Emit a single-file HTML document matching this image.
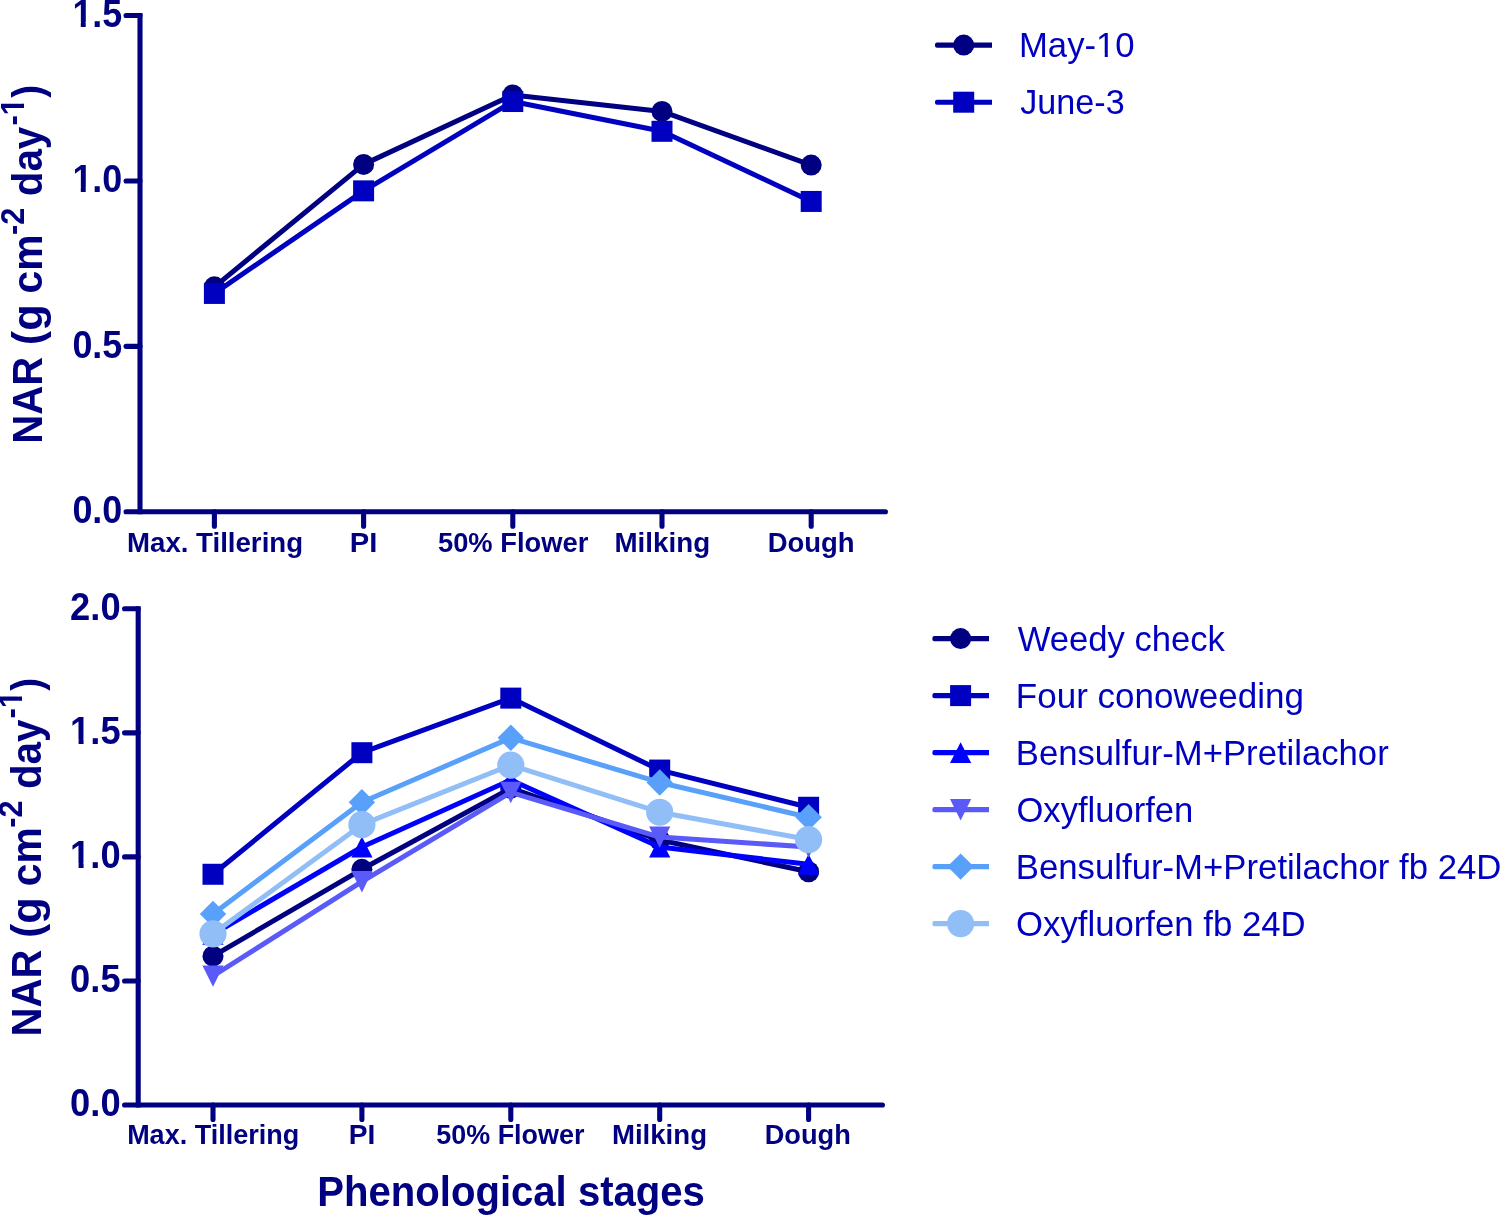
<!DOCTYPE html>
<html lang="en">
<head>
<meta charset="utf-8">
<title>NAR by phenological stages</title>
<style>
html,body{margin:0;padding:0;background:#fff;}
body{width:1500px;height:1215px;overflow:hidden;}
svg{display:block;}
text{font-family:"Liberation Sans",sans-serif;}
.yl text{font-size:38.2px;font-weight:bold;fill:#000080;}
.xl text{font-size:27.6px;font-weight:bold;fill:#000080;}
.yt text{font-size:43.2px;font-weight:bold;fill:#000080;font-kerning:none;}
.yt text.sup{font-size:33px;}
.xt{font-size:43.2px;font-weight:bold;fill:#000080;}
.lg{font-size:35.1px;fill:#0000c0;}
</style>
</head>
<body>
<svg width="1500" height="1215" viewBox="0 0 1500 1215">
<rect width="1500" height="1215" fill="#ffffff"/>
<!-- top chart -->
<g stroke="#000080" stroke-width="5.1" stroke-linecap="round" fill="none">
<path d="M140 15.5V511.8" stroke-linecap="square"/>
<path d="M126.05 511.8H885.45"/>
<path d="M126.05 15.5H140"/>
<path d="M126.05 180.93H140"/>
<path d="M126.05 346.37H140"/>
<path d="M214.4 511.8V526.25"/>
<path d="M363.6 511.8V526.25"/>
<path d="M512.8 511.8V526.25"/>
<path d="M662 511.8V526.25"/>
<path d="M811.2 511.8V526.25"/>
</g>
<g class="yl" text-anchor="end">
<text class="m1" x="122.3" y="26.8" textLength="49.9" lengthAdjust="spacingAndGlyphs">1.5</text>
<text class="m1" x="122.3" y="192.23" textLength="49.9" lengthAdjust="spacingAndGlyphs">1.0</text>
<text x="122.3" y="357.67" textLength="49.9" lengthAdjust="spacingAndGlyphs">0.5</text>
<text x="122.3" y="523.1" textLength="49.9" lengthAdjust="spacingAndGlyphs">0.0</text>
</g>
<g class="xl">
<text x="127" y="551.5" textLength="176.07" lengthAdjust="spacingAndGlyphs">Max. Tillering</text>
<text x="349.85" y="551.5" textLength="27.58" lengthAdjust="spacingAndGlyphs">PI</text>
<text x="437.95" y="551.5" textLength="150.41" lengthAdjust="spacingAndGlyphs">50% Flower</text>
<text x="614.48" y="551.5" textLength="95.65" lengthAdjust="spacingAndGlyphs">Milking</text>
<text x="767.66" y="551.5" textLength="86.99" lengthAdjust="spacingAndGlyphs">Dough</text>
</g>
<g class="yt" transform="translate(42.3 441) rotate(-90)">
<text x="-2.68" textLength="86.8" lengthAdjust="spacingAndGlyphs">NAR</text>
<text x="95.74" textLength="40.85" lengthAdjust="spacingAndGlyphs">(g</text>
<text x="147.61" textLength="58.92" lengthAdjust="spacingAndGlyphs">cm</text>
<text class="sup" y="-18.3" x="206.1" textLength="27.22" lengthAdjust="spacingAndGlyphs">-2</text>
<text x="244.74" textLength="69.57" lengthAdjust="spacingAndGlyphs">day</text>
<text class="sup m1" y="-18.3" x="315.38" textLength="27.7" lengthAdjust="spacingAndGlyphs">-1</text>
<text x="343.16" textLength="12.86" lengthAdjust="spacingAndGlyphs">)</text>
</g>
<polyline points="214.4,286.81 363.6,164.39 512.8,94.91 662,111.45 811.2,165.05" fill="none" stroke="#000080" stroke-width="5.0" stroke-linejoin="round"/>
<circle cx="214.4" cy="286.81" r="10.5" fill="#000080"/>
<circle cx="363.6" cy="164.39" r="10.5" fill="#000080"/>
<circle cx="512.8" cy="94.91" r="10.5" fill="#000080"/>
<circle cx="662" cy="111.45" r="10.5" fill="#000080"/>
<circle cx="811.2" cy="165.05" r="10.5" fill="#000080"/>
<polyline points="214.4,293.43 363.6,190.86 512.8,101.53 662,131.3 811.2,201.45" fill="none" stroke="#0000c0" stroke-width="5.0" stroke-linejoin="round"/>
<rect x="203.9" y="282.93" width="21" height="21" fill="#0000c0"/>
<rect x="353.1" y="180.36" width="21" height="21" fill="#0000c0"/>
<rect x="502.3" y="91.03" width="21" height="21" fill="#0000c0"/>
<rect x="651.5" y="120.8" width="21" height="21" fill="#0000c0"/>
<rect x="800.7" y="190.95" width="21" height="21" fill="#0000c0"/>
<path d="M937 42.55H992V47.65H937A2 2 0 0 1 935 45.65V44.55A2 2 0 0 1 937 42.55Z" fill="#000080"/>
<circle cx="963.7" cy="45.1" r="10.5" fill="#000080"/>
<text class="lg m1" x="1018.98" y="57.3" textLength="115.6" lengthAdjust="spacingAndGlyphs">May-10</text>
<path d="M937 99.65H992V104.75H937A2 2 0 0 1 935 102.75V101.65A2 2 0 0 1 937 99.65Z" fill="#0000c0"/>
<rect x="953.2" y="91.7" width="21" height="21" fill="#0000c0"/>
<text class="lg" x="1020.26" y="114.4" textLength="104.45" lengthAdjust="spacingAndGlyphs">June-3</text>
<!-- bottom chart -->
<g stroke="#000080" stroke-width="5.1" stroke-linecap="round" fill="none">
<path d="M138.2 608.8V1105" stroke-linecap="square"/>
<path d="M124.55 1105H882.45"/>
<path d="M124.55 608.8H138.2"/>
<path d="M124.55 732.85H138.2"/>
<path d="M124.55 856.9H138.2"/>
<path d="M124.55 980.95H138.2"/>
<path d="M213 1105V1119.45"/>
<path d="M361.9 1105V1119.45"/>
<path d="M510.8 1105V1119.45"/>
<path d="M659.7 1105V1119.45"/>
<path d="M808.6 1105V1119.45"/>
</g>
<g class="yl" text-anchor="end">
<text x="120.6" y="620.1" textLength="50.5" lengthAdjust="spacingAndGlyphs">2.0</text>
<text class="m1" x="120.6" y="744.15" textLength="50.5" lengthAdjust="spacingAndGlyphs">1.5</text>
<text class="m1" x="120.6" y="868.2" textLength="50.5" lengthAdjust="spacingAndGlyphs">1.0</text>
<text x="120.6" y="992.25" textLength="50.5" lengthAdjust="spacingAndGlyphs">0.5</text>
<text x="120.6" y="1116.3" textLength="50.5" lengthAdjust="spacingAndGlyphs">0.0</text>
</g>
<g class="xl">
<text x="127.14" y="1144" textLength="172.12" lengthAdjust="spacingAndGlyphs">Max. Tillering</text>
<text x="348.85" y="1144" textLength="26.55" lengthAdjust="spacingAndGlyphs">PI</text>
<text x="436.32" y="1144" textLength="148.06" lengthAdjust="spacingAndGlyphs">50% Flower</text>
<text x="611.93" y="1144" textLength="95.09" lengthAdjust="spacingAndGlyphs">Milking</text>
<text x="764.69" y="1144" textLength="86.2" lengthAdjust="spacingAndGlyphs">Dough</text>
</g>
<g class="yt" transform="translate(40.5 1033.8) rotate(-90)">
<text x="-2.68" textLength="86.8" lengthAdjust="spacingAndGlyphs">NAR</text>
<text x="95.74" textLength="40.85" lengthAdjust="spacingAndGlyphs">(g</text>
<text x="147.61" textLength="58.92" lengthAdjust="spacingAndGlyphs">cm</text>
<text class="sup" y="-18.3" x="206.1" textLength="27.22" lengthAdjust="spacingAndGlyphs">-2</text>
<text x="244.74" textLength="69.57" lengthAdjust="spacingAndGlyphs">day</text>
<text class="sup m1" y="-18.3" x="315.38" textLength="27.7" lengthAdjust="spacingAndGlyphs">-1</text>
<text x="343.16" textLength="12.86" lengthAdjust="spacingAndGlyphs">)</text>
</g>
<polyline points="213,956.14 361.9,869.3 510.8,788.18 659.7,840.03 808.6,871.79" fill="none" stroke="#000080" stroke-width="5.0" stroke-linejoin="round"/>
<circle cx="213" cy="956.14" r="10.5" fill="#000080"/>
<circle cx="361.9" cy="869.3" r="10.5" fill="#000080"/>
<circle cx="510.8" cy="788.18" r="10.5" fill="#000080"/>
<circle cx="659.7" cy="840.03" r="10.5" fill="#000080"/>
<circle cx="808.6" cy="871.79" r="10.5" fill="#000080"/>
<polyline points="213,874.27 361.9,752.7 510.8,698.12 659.7,770.06 808.6,807.28" fill="none" stroke="#0000c0" stroke-width="5.0" stroke-linejoin="round"/>
<rect x="202.5" y="863.77" width="21" height="21" fill="#0000c0"/>
<rect x="351.4" y="742.2" width="21" height="21" fill="#0000c0"/>
<rect x="500.3" y="687.62" width="21" height="21" fill="#0000c0"/>
<rect x="649.2" y="759.56" width="21" height="21" fill="#0000c0"/>
<rect x="798.1" y="796.78" width="21" height="21" fill="#0000c0"/>
<polyline points="213,934.31 361.9,846.98 510.8,779.99 659.7,846.98 808.6,864.34" fill="none" stroke="#0000ff" stroke-width="5.0" stroke-linejoin="round"/>
<polygon points="213,923.91 223.6,944.71 202.4,944.71" fill="#0000ff"/>
<polygon points="361.9,836.58 372.5,857.38 351.3,857.38" fill="#0000ff"/>
<polygon points="510.8,769.59 521.4,790.39 500.2,790.39" fill="#0000ff"/>
<polygon points="659.7,836.58 670.3,857.38 649.1,857.38" fill="#0000ff"/>
<polygon points="808.6,853.94 819.2,874.74 798,874.74" fill="#0000ff"/>
<polyline points="213,975.99 361.9,881.71 510.8,792.39 659.7,837.05 808.6,846.98" fill="none" stroke="#5a5af8" stroke-width="5.0" stroke-linejoin="round"/>
<polygon points="213,986.79 223.6,965.39 202.4,965.39" fill="#5a5af8"/>
<polygon points="361.9,892.51 372.5,871.11 351.3,871.11" fill="#5a5af8"/>
<polygon points="510.8,803.19 521.4,781.79 500.2,781.79" fill="#5a5af8"/>
<polygon points="659.7,847.85 670.3,826.45 649.1,826.45" fill="#5a5af8"/>
<polygon points="808.6,857.78 819.2,836.38 798,836.38" fill="#5a5af8"/>
<polyline points="213,913.96 361.9,802.32 510.8,737.81 659.7,782.47 808.6,817.2" fill="none" stroke="#58a0fa" stroke-width="5.0" stroke-linejoin="round"/>
<polygon points="213,900.76 226.2,913.96 213,927.16 199.8,913.96" fill="#58a0fa"/>
<polygon points="361.9,789.12 375.1,802.32 361.9,815.52 348.7,802.32" fill="#58a0fa"/>
<polygon points="510.8,724.61 524,737.81 510.8,751.01 497.6,737.81" fill="#58a0fa"/>
<polygon points="659.7,769.27 672.9,782.47 659.7,795.67 646.5,782.47" fill="#58a0fa"/>
<polygon points="808.6,804 821.8,817.2 808.6,830.4 795.4,817.2" fill="#58a0fa"/>
<polyline points="213,933.81 361.9,824.65 510.8,765.1 659.7,812.24 808.6,839.53" fill="none" stroke="#92bef8" stroke-width="5.0" stroke-linejoin="round"/>
<circle cx="213" cy="933.81" r="13.6" fill="#92bef8"/>
<circle cx="361.9" cy="824.65" r="13.6" fill="#92bef8"/>
<circle cx="510.8" cy="765.1" r="13.6" fill="#92bef8"/>
<circle cx="659.7" cy="812.24" r="13.6" fill="#92bef8"/>
<circle cx="808.6" cy="839.53" r="13.6" fill="#92bef8"/>
<path d="M934.4 636.05H989V641.15H934.4A2 2 0 0 1 932.4 639.15V638.05A2 2 0 0 1 934.4 636.05Z" fill="#000080"/>
<circle cx="960.6" cy="638.6" r="10.5" fill="#000080"/>
<text class="lg" x="1017.67" y="650.8" textLength="207.17" lengthAdjust="spacingAndGlyphs">Weedy check</text>
<path d="M934.4 693.05H989V698.15H934.4A2 2 0 0 1 932.4 696.15V695.05A2 2 0 0 1 934.4 693.05Z" fill="#0000c0"/>
<rect x="950.1" y="685.1" width="21" height="21" fill="#0000c0"/>
<text class="lg" x="1015.82" y="707.8" textLength="288.09" lengthAdjust="spacingAndGlyphs">Four conoweeding</text>
<path d="M934.4 750.05H989V755.15H934.4A2 2 0 0 1 932.4 753.15V752.05A2 2 0 0 1 934.4 750.05Z" fill="#0000ff"/>
<polygon points="960.6,742.2 971.2,763 950,763" fill="#0000ff"/>
<text class="lg" x="1015.8" y="764.8" textLength="372.91" lengthAdjust="spacingAndGlyphs">Bensulfur-M+Pretilachor</text>
<path d="M934.4 807.05H989V812.15H934.4A2 2 0 0 1 932.4 810.15V809.05A2 2 0 0 1 934.4 807.05Z" fill="#5a5af8"/>
<polygon points="960.6,820.4 971.2,799 950,799" fill="#5a5af8"/>
<text class="lg" x="1016.43" y="821.8" textLength="176.93" lengthAdjust="spacingAndGlyphs">Oxyfluorfen</text>
<path d="M934.4 864.05H989V869.15H934.4A2 2 0 0 1 932.4 867.15V866.05A2 2 0 0 1 934.4 864.05Z" fill="#58a0fa"/>
<polygon points="960.6,853.4 973.8,866.6 960.6,879.8 947.4,866.6" fill="#58a0fa"/>
<text class="lg" x="1015.76" y="878.8" textLength="485.64" lengthAdjust="spacingAndGlyphs">Bensulfur-M+Pretilachor fb 24D</text>
<path d="M934.4 921.05H989V926.15H934.4A2 2 0 0 1 932.4 924.15V923.05A2 2 0 0 1 934.4 921.05Z" fill="#92bef8"/>
<circle cx="960.6" cy="923.6" r="13.6" fill="#92bef8"/>
<text class="lg" x="1016.04" y="935.8" textLength="289.59" lengthAdjust="spacingAndGlyphs">Oxyfluorfen fb 24D</text>
<text class="xt" x="317.26" y="1205.8" textLength="387.68" lengthAdjust="spacingAndGlyphs">Phenological stages</text>
<g fill="#ffffff"><rect x="73.86" y="21.9" width="6.92" height="5.8"/><rect x="85.71" y="21.9" width="6.46" height="5.8"/></g>
<g fill="#ffffff"><rect x="73.86" y="187.33" width="6.92" height="5.8"/><rect x="85.71" y="187.33" width="6.46" height="5.8"/></g>
<g fill="#ffffff" transform="translate(42.3 441) rotate(-90)"><rect x="326.91" y="-22.67" width="6.11" height="5.27"/><rect x="337.3" y="-22.67" width="5.71" height="5.27"/></g>
<g fill="#ffffff"><rect x="1097.85" y="53.68" width="6.88" height="4.52"/><rect x="1107.8" y="53.68" width="6.61" height="4.52"/></g>
<g fill="#ffffff"><rect x="71.59" y="739.25" width="6.99" height="5.8"/><rect x="83.57" y="739.25" width="6.53" height="5.8"/></g>
<g fill="#ffffff"><rect x="71.59" y="863.3" width="6.99" height="5.8"/><rect x="83.57" y="863.3" width="6.53" height="5.8"/></g>
<g fill="#ffffff" transform="translate(40.5 1033.8) rotate(-90)"><rect x="326.91" y="-22.67" width="6.11" height="5.27"/><rect x="337.3" y="-22.67" width="5.71" height="5.27"/></g>
</svg>
</body>
</html>
